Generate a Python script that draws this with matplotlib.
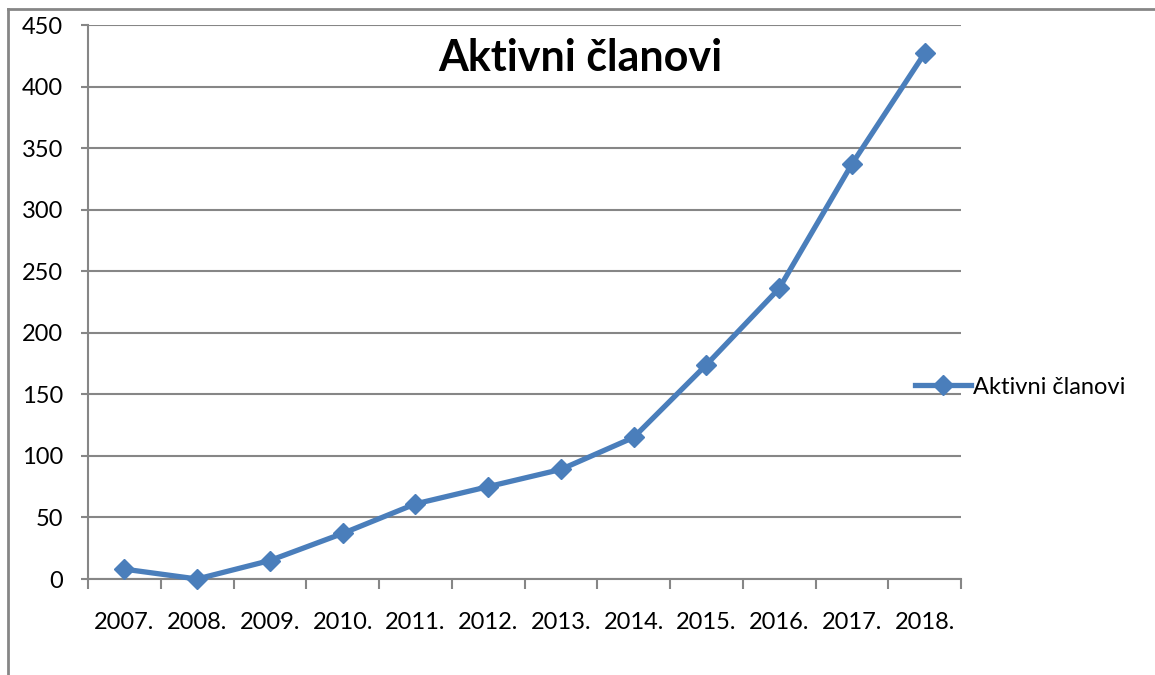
import matplotlib.pyplot as plt
from matplotlib.lines import Line2D
import numpy as np

years = ['2007.', '2008.', '2009.', '2010.', '2011.', '2012.',
         '2013.', '2014.', '2015.', '2016.', '2017.', '2018.']
members = [8, 0, 15, 37, 61, 75, 89, 115, 174, 236, 337, 427]
series_name = 'Aktivni članovi'

plt.rcParams['font.family'] = ['Lato', 'DejaVu Sans']

blue = '#4a7ebb'
grey = '#868686'
fs = 17

fig = plt.figure(figsize=(11.55, 6.75), dpi=100)
ax = fig.add_axes([88/1155, 1-579/675, (961-88)/1155, (579-25)/675])

x = np.arange(len(years))
ax.plot(x, members, color=blue, lw=3.8, marker='D', ms=10.5,
        solid_joinstyle='round', label=series_name, zorder=3, clip_on=False)

ax.set_xlim(-0.5, len(years) - 0.5)
ax.set_ylim(0, 450)
ax.set_yticks(np.arange(0, 451, 50))
ax.yaxis.grid(True, color=grey, lw=1.5)
ax.set_axisbelow(True)

# category boundaries get the tick marks, labels sit in the middle
ax.set_xticks(np.arange(-0.5, len(years), 1))
ax.set_xticklabels([])
ax.set_xticks(x, minor=True)
ax.set_xticklabels(years, minor=True)
ax.tick_params(axis='x', which='major', length=7, width=1.5, color=grey)
ax.tick_params(axis='x', which='minor', length=0, pad=24, labelsize=fs)
ax.tick_params(axis='y', length=5, width=1.5, color=grey, pad=13, labelsize=fs)

for s in ('top', 'right'):
    ax.spines[s].set_visible(False)
for s in ('left', 'bottom'):
    ax.spines[s].set_color(grey)
    ax.spines[s].set_linewidth(1.5)

fig.text(580/1155, 1-58/675, series_name, ha='center', va='center',
         fontsize=31, fontweight='bold')

ax.legend(loc='center left', bbox_to_anchor=(903/1155, 1-387/675),
          bbox_transform=fig.transFigure, frameon=False, fontsize=fs,
          handlelength=2.4, handletextpad=0.05, borderpad=0)

# chart area border (only top and left show in the crop)
fig.add_artist(Line2D([8/1155, 8/1155], [0, 1-9/675], color=grey, lw=2,
                      transform=fig.transFigure))
fig.add_artist(Line2D([8/1155, 1], [1-9/675, 1-9/675], color=grey, lw=2,
                      transform=fig.transFigure))

fig.savefig('out.png', dpi=100)
